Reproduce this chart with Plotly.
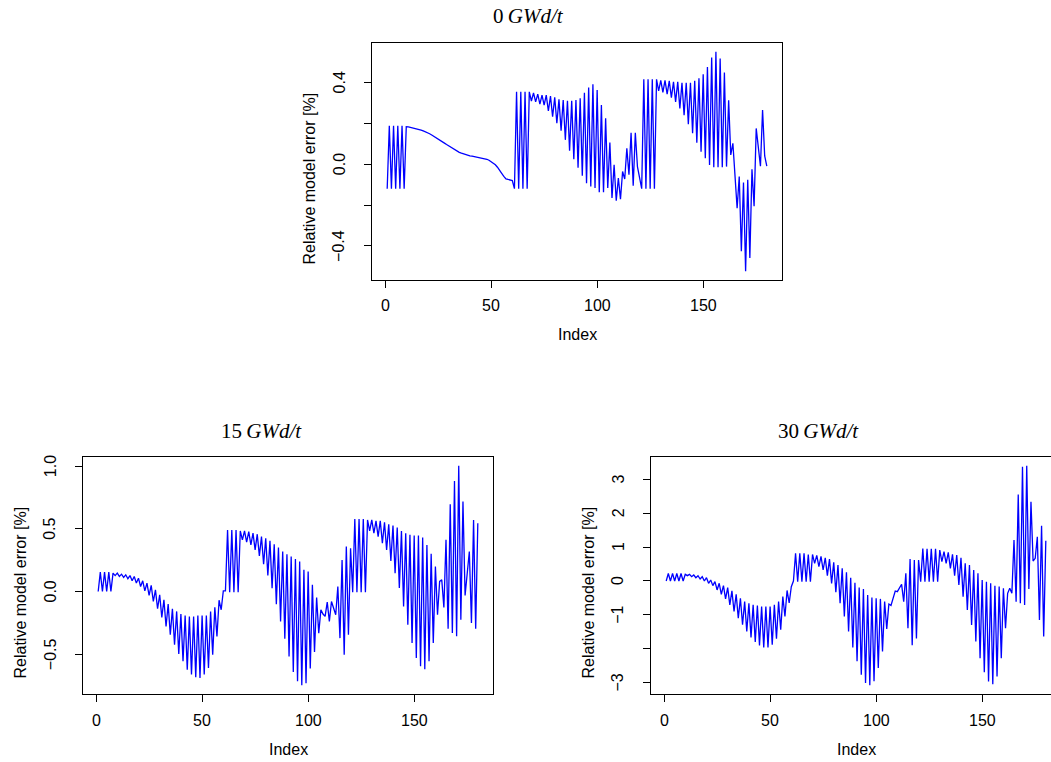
import plotly.graph_objects as go

# ---------------- data ----------------
index = list(range(1, 181))

err_0 = [
    -0.12, 0.188, -0.12, 0.188, -0.12, 0.188, -0.12, 0.188, -0.12,
    0.183, 0.182, 0.180, 0.178, 0.176, 0.173, 0.171, 0.167, 0.163, 0.159,
    0.154, 0.149, 0.143, 0.137, 0.131, 0.125, 0.117, 0.110, 0.103, 0.096,
    0.089, 0.082, 0.076, 0.070, 0.064, 0.058, 0.054, 0.050, 0.047, 0.044,
    0.041, 0.039, 0.037, 0.035, 0.034, 0.032, 0.029, 0.027, 0.024, 0.019,
    0.013, 0.006, -0.003, -0.015, -0.028, -0.045, -0.060, -0.072, -0.075, -0.077,
    -0.080, -0.120,
    0.354, -0.12, 0.354, -0.12, 0.354, -0.12, 0.354,
    0.309, 0.349, 0.305, 0.343, 0.294, 0.338, 0.289, 0.338, 0.26, 0.333,
    0.232, 0.327, 0.2, 0.317, 0.164, 0.314, 0.119, 0.31, 0.066, 0.31,
    0.024, 0.314, -0.017, 0.322, -0.057, 0.349, -0.093, 0.375, -0.109, 0.391,
    -0.117, 0.363, -0.137, 0.289, -0.137, 0.224, -0.117, 0.106, -0.166, -0.003,
    -0.179, -0.068, -0.171, -0.036, -0.073, 0.078, -0.052, 0.154, -0.106, 0.154,
    -0.012, -0.06, -0.12, 0.415, -0.12, 0.415, -0.12, 0.415, -0.12, 0.415,
    0.359, 0.41, 0.351, 0.41, 0.343, 0.408, 0.326, 0.403, 0.305, 0.403,
    0.273, 0.398, 0.24, 0.398, 0.196, 0.398, 0.151, 0.408, 0.105, 0.42,
    0.061, 0.44, 0.029, 0.476, -0.004, 0.522, -0.015, 0.55, -0.015, 0.517,
    -0.015, 0.449, -0.012, 0.313, 0.045, 0.102, -0.052, -0.215, -0.06, -0.426,
    -0.09, -0.524, -0.077, -0.459, -0.025, -0.206, 0.175, 0.09, -0.01, 0.265,
    0.04, -0.01,
]

err_15 = [
    0.0, 0.154, 0.0, 0.154, 0.0, 0.154, 0.0, 0.146, 0.127, 0.146,
    0.12, 0.138, 0.112, 0.133, 0.102, 0.127, 0.085, 0.12, 0.067, 0.106,
    0.04, 0.085, 0.005, 0.067, -0.032, 0.048, -0.08, 0.013, -0.138, -0.026,
    -0.207, -0.066, -0.279, -0.101, -0.345, -0.138, -0.425, -0.159, -0.499, -0.18,
    -0.557, -0.191, -0.624, -0.199, -0.663, -0.199, -0.685, -0.191, -0.69, -0.191,
    -0.663, -0.191, -0.61, -0.159, -0.504, -0.127, -0.358, -0.07, -0.146, 0.005,
    0.005, 0.491, -0.005, 0.491, -0.005, 0.491, -0.005, 0.483, 0.412, 0.483,
    0.393, 0.478, 0.372, 0.465, 0.332, 0.457, 0.284, 0.438, 0.218, 0.425,
    0.128, 0.404, 0.027, 0.377, -0.101, 0.35, -0.239, 0.319, -0.377, 0.297,
    -0.518, 0.279, -0.642, 0.26, -0.717, 0.239, -0.748, 0.173, -0.733, 0.16,
    -0.615, 0.053, -0.483, -0.048, -0.332, -0.146, -0.18, -0.199, -0.085, -0.239,
    -0.08, -0.138, -0.186, 0.04, -0.372, 0.252, -0.504, 0.358, -0.345, 0.345,
    -0.005, 0.579, -0.005, 0.579, -0.005, 0.579, -0.005, 0.571, 0.483, 0.571,
    0.465, 0.563, 0.438, 0.563, 0.385, 0.552, 0.332, 0.536, 0.244, 0.526,
    0.146, 0.51, 0.027, 0.483, -0.119, 0.465, -0.265, 0.452, -0.411, 0.446,
    -0.531, 0.446, -0.597, 0.43, -0.62, 0.37, -0.557, 0.3, -0.411, 0.2,
    -0.186, 0.08, 0.093, -0.127, 0.412, -0.297, 0.696, -0.332, 0.882, -0.358,
    1.003, -0.226, 0.717, -0.032, 0.133, 0.319, -0.252, 0.571, -0.297, 0.544,
]

err_30 = [
    0.0, 0.22, 0.0, 0.22, 0.0, 0.22, 0.0, 0.22, 0.0, 0.196,
    0.157, 0.196, 0.127, 0.176, 0.098, 0.157, 0.059, 0.127, 0.0, 0.098,
    -0.069, 0.029, -0.137, -0.02, -0.265, -0.069, -0.392, -0.137, -0.529, -0.196,
    -0.706, -0.294, -0.902, -0.392, -1.098, -0.51, -1.294, -0.608, -1.49, -0.657,
    -1.667, -0.706, -1.804, -0.725, -1.902, -0.755, -1.961, -0.755, -1.961, -0.755,
    -1.882, -0.706, -1.706, -0.608, -1.441, -0.461, -1.049, -0.28, -0.65, -0.17,
    0.0, 0.814, -0.02, 0.814, -0.02, 0.814, -0.02, 0.784, -0.02, 0.784,
    0.52, 0.755, 0.422, 0.725, 0.324, 0.686, 0.157, 0.647, -0.069, 0.549,
    -0.333, 0.47, -0.657, 0.373, -1.049, 0.255, -1.49, 0.098, -1.961, -0.049,
    -2.373, -0.196, -2.765, -0.235, -3.01, -0.412, -3.078, -0.49, -2.96, -0.51,
    -2.569, -0.529, -2.078, -0.608, -1.416, -0.68, -0.72, -0.5, -0.295, -0.315,
    -0.216, -0.098, -0.61, 0.226, -1.396, 0.649, -1.9, 0.62, -1.7, 0.62,
    -0.02, 0.96, -0.02, 0.95, -0.02, 0.95, -0.02, 0.95, -0.02, 0.914,
    0.571, 0.865, 0.521, 0.845, 0.374, 0.786, 0.157, 0.767, -0.118, 0.688,
    -0.462, 0.521, -0.855, 0.472, -1.298, 0.324, -1.79, 0.226, -2.281, 0.03,
    -2.694, -0.02, -2.97, -0.069, -3.048, -0.138, -2.822, -0.167, -2.281, -0.216,
    -1.396, -0.364, -0.216, -0.364, 1.209, -0.61, 2.556, -0.659, 3.372, -0.708,
    3.402, -0.236, 2.34, 0.59, 0.668, 1.308, -1.151, 1.632, -1.642, 1.19,
]

panel_labels = ["0", "15", "30"]
x_ticks = [0, 50, 100, 150]
y_ticks_0 = [-0.4, -0.2, 0.0, 0.2, 0.4]
y_text_0 = ["\u22120.4", "", "0.0", "", "0.4"]
y_ticks_15 = [-0.5, 0.0, 0.5, 1.0]
y_text_15 = ["\u22120.5", "0.0", "0.5", "1.0"]
y_ticks_30 = [-3, -2, -1, 0, 1, 2, 3]
y_text_30 = ["\u22123", "", "\u22121", "0", "1", "2", "3"]

# ---------------- layout geometry (pixels) ----------------
W, H = 1051, 762
BOX_W = 410
boxes = [  # left, top, bottom
    (372, 43, 280),
    (83, 457, 694),
    (651, 457, 694),
]
title_pos = [(528, 16), (261, 431), (818, 431)]
YLAB_SHIFT = 17
FONT = "Liberation Sans"
TICKFONT = dict(family=FONT, size=16, color="black")


def r_range(v):
    lo, hi = min(v), max(v)
    d = 0.04 * (hi - lo)
    return [lo - d, hi + d]


xr = r_range(index)
units_per_px = (xr[1] - xr[0]) / BOX_W

fig = go.Figure()
series = [err_0, err_15, err_30]
yticks = [(y_ticks_0, y_text_0), (y_ticks_15, y_text_15), (y_ticks_30, y_text_30)]

annotations = []
for i, (vals, (left, top, bottom)) in enumerate(zip(series, boxes)):
    n = "" if i == 0 else str(i + 1)
    right = min(left + BOX_W, W)
    xrange = [xr[0], xr[0] + (right - left) * units_per_px]
    fig.add_trace(go.Scatter(
        x=index, y=vals, mode="lines",
        line=dict(color="#0000FF", width=1.3),
        xaxis="x" + n, yaxis="y" + n, showlegend=False, hoverinfo="skip",
    ))
    axis_common = dict(
        showgrid=False, zeroline=False, showline=True, linecolor="black",
        linewidth=1, ticks="outside", ticklen=7, tickcolor="black", tickwidth=1,
        showticklabels=False,
    )
    fig.layout["xaxis" + n] = dict(
        axis_common,
        domain=[left / W, right / W], range=xrange, anchor="y" + n,
        tickvals=x_ticks, mirror=True,
    )
    tv, tt = yticks[i]
    fig.layout["yaxis" + n] = dict(
        axis_common,
        domain=[1 - bottom / H, 1 - top / H], range=r_range(vals), anchor="x" + n,
        tickvals=tv, mirror=(right - left) >= BOX_W,
    )
    # tick labels
    for t in x_ticks:
        annotations.append(dict(
            text=str(t), x=t, xref="x" + n, y=1 - (bottom + 26) / H, yref="paper",
            showarrow=False, xanchor="center", yanchor="middle", font=TICKFONT,
        ))
    for v, s in zip(tv, tt):
        if not s:
            continue
        annotations.append(dict(
            text=s, y=v, yref="y" + n, x=(left - 33) / W, xref="paper",
            showarrow=False, xanchor="center", yanchor="middle",
            textangle=-90, font=TICKFONT,
        ))
    cx = (left + left + BOX_W) / 2
    cy = (top + bottom) / 2 + YLAB_SHIFT
    annotations.append(dict(
        text="Index", x=cx / W, y=1 - (bottom + 55) / H, xref="paper", yref="paper",
        showarrow=False, xanchor="center", yanchor="middle",
        font=dict(family=FONT, size=16, color="black"),
    ))
    annotations.append(dict(
        text="Relative model error [%]", x=(left - 63) / W, y=1 - cy / H,
        xref="paper", yref="paper", showarrow=False, textangle=-90,
        xanchor="center", yanchor="middle",
        font=dict(family=FONT, size=16, color="black"),
    ))
    tx, ty = title_pos[i]
    annotations.append(dict(
        text=panel_labels[i] + "\u2009<i>GWd/t</i>", x=tx / W, y=1 - ty / H,
        xref="paper", yref="paper", showarrow=False,
        xanchor="center", yanchor="middle",
        font=dict(family="Liberation Serif", size=21, color="black"),
    ))

fig.update_layout(
    width=W, height=H, autosize=False,
    margin=dict(l=0, r=0, t=0, b=0),
    paper_bgcolor="white", plot_bgcolor="white",
    annotations=annotations,
)

fig.write_html("out.html", config={"displayModeBar": False},
               post_script="document.body.style.margin='0';")
